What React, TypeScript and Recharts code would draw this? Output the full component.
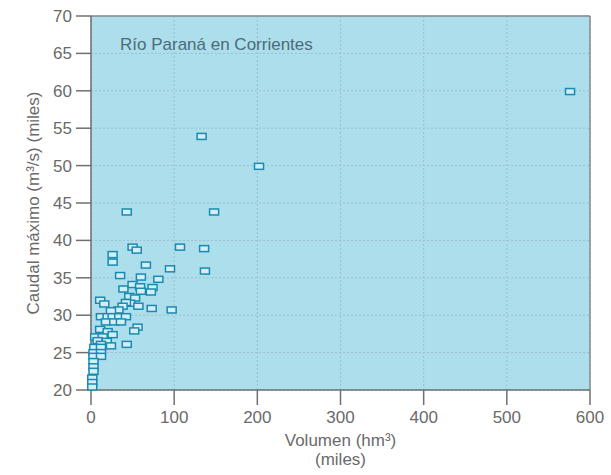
import React from "react";
import { CartesianGrid, ReferenceLine, Scatter, ScatterChart, XAxis, YAxis } from "recharts";

// volumen (miles de hm3) and caudal máximo (miles de m3/s)
const volumen = [
  576, 133, 202, 43, 148, 50, 55, 107, 136, 26, 26, 66, 95, 137, 35, 60, 81,
  39, 50, 59, 60, 74, 72, 46, 53, 47, 11, 16, 42, 38, 57, 73, 97, 33, 24,
  12, 20, 26, 34, 42, 18, 28, 36, 56, 52, 11, 20, 26, 5, 14, 8, 19, 12, 24,
  43, 4, 12, 3, 12, 3, 12, 3, 3, 3, 1.5, 1.5, 1.5,
];
const caudal = [
  59.9, 53.9, 49.9, 43.8, 43.8, 39.1, 38.7, 39.1, 38.9, 38.1, 37.1, 36.7, 36.2, 35.9, 35.3, 35.1, 34.8,
  33.5, 34.1, 33.8, 33.2, 33.7, 33.1, 32.5, 32.3, 31.6, 32.0, 31.5, 31.7, 31.2, 31.2, 30.9, 30.7, 30.7, 30.6,
  29.8, 29.8, 29.8, 29.8, 29.8, 29.1, 29.1, 29.1, 28.4, 27.9, 28.1, 27.8, 27.4, 27.1, 27.1, 26.6, 26.5, 26.1, 25.9,
  26.1, 25.7, 25.7, 25.0, 25.0, 24.5, 24.5, 23.8, 23.1, 22.5, 21.6, 21.0, 20.4,
];
const xTicks = [0, 100, 200, 300, 400, 500, 600];
const yTicks = [20, 25, 30, 35, 40, 45, 50, 55, 60, 65, 70];

const data = volumen.map((v, i) => ({ v, q: caudal[i] }));

const font = "'Liberation Sans', Arial, sans-serif";
const gray = "#6a6a6a";

const Box = ({ cx, cy }: any) => (
  <rect x={ cx - 4.5 } y={ cy - 3 } width={ 9 } height={ 6 } fill="#d2eff7" stroke="#1b8ab2" strokeWidth={ 1.5 }/>
);

const XLabel = ({ viewBox }: any) => {
  const cx = viewBox.x + viewBox.width / 2;
  return (
    <text x={ cx } textAnchor="middle" fill={ gray } fontSize={ 17 } fontFamily={ font }>
      <tspan x={ cx } y={ 446 }>Volumen (hm³)</tspan>
      <tspan x={ cx } y={ 465 }>(miles)</tspan>
    </text>
  );
};

const YLabel = ({ viewBox }: any) => {
  const cy = viewBox.y + viewBox.height / 2;
  return (
    <text x={ 39 } y={ cy } transform={ `rotate(-90, 39, ${ cy })` } textAnchor="middle"
          fill={ gray } fontSize={ 17 } fontFamily={ font }>
      Caudal máximo (m³/s) (miles)
    </text>
  );
};

const App = () => (
  <div style={ { position: "absolute", left: 0, top: 0, background: "#fff" } }>
    <ScatterChart width={ 611 } height={ 475 } margin={ { top: 16, right: 21, bottom: 0, left: 31 } }>
      <CartesianGrid fill="#acdeeb" stroke="#9dbfca" strokeDasharray="2 2" horizontalValues={ yTicks } verticalValues={ xTicks }/>
      <XAxis type="number" dataKey="v" domain={ [0, 600] } ticks={ xTicks } height={ 85 }
             tickSize={ 15 } tickMargin={ 6 } stroke="#6f6f6f" strokeWidth={ 1.5 }
             tick={ { fill: gray, fontSize: 17, fontFamily: font } } label={ <XLabel/> }/>
      <YAxis type="number" dataKey="q" domain={ [20, 70] } ticks={ yTicks } width={ 60 }
             tickSize={ 15 } tickMargin={ 4 } stroke="#6f6f6f" strokeWidth={ 1.5 }
             tick={ { fill: gray, fontSize: 17, fontFamily: font } } label={ <YLabel/> }/>
      <ReferenceLine y={ 70 } stroke="#8a8a8a" strokeWidth={ 1.5 }/>
      <ReferenceLine x={ 600 } stroke="#8a8a8a" strokeWidth={ 1.5 }/>
      <text x={ 120 } y={ 50 } fill="#4d6b78" fontSize={ 17 } fontFamily={ font }>Río Paraná en Corrientes</text>
      <Scatter data={ data } shape={ <Box/> } isAnimationActive={ false }/>
    </ScatterChart>
  </div>
);

export default App;
